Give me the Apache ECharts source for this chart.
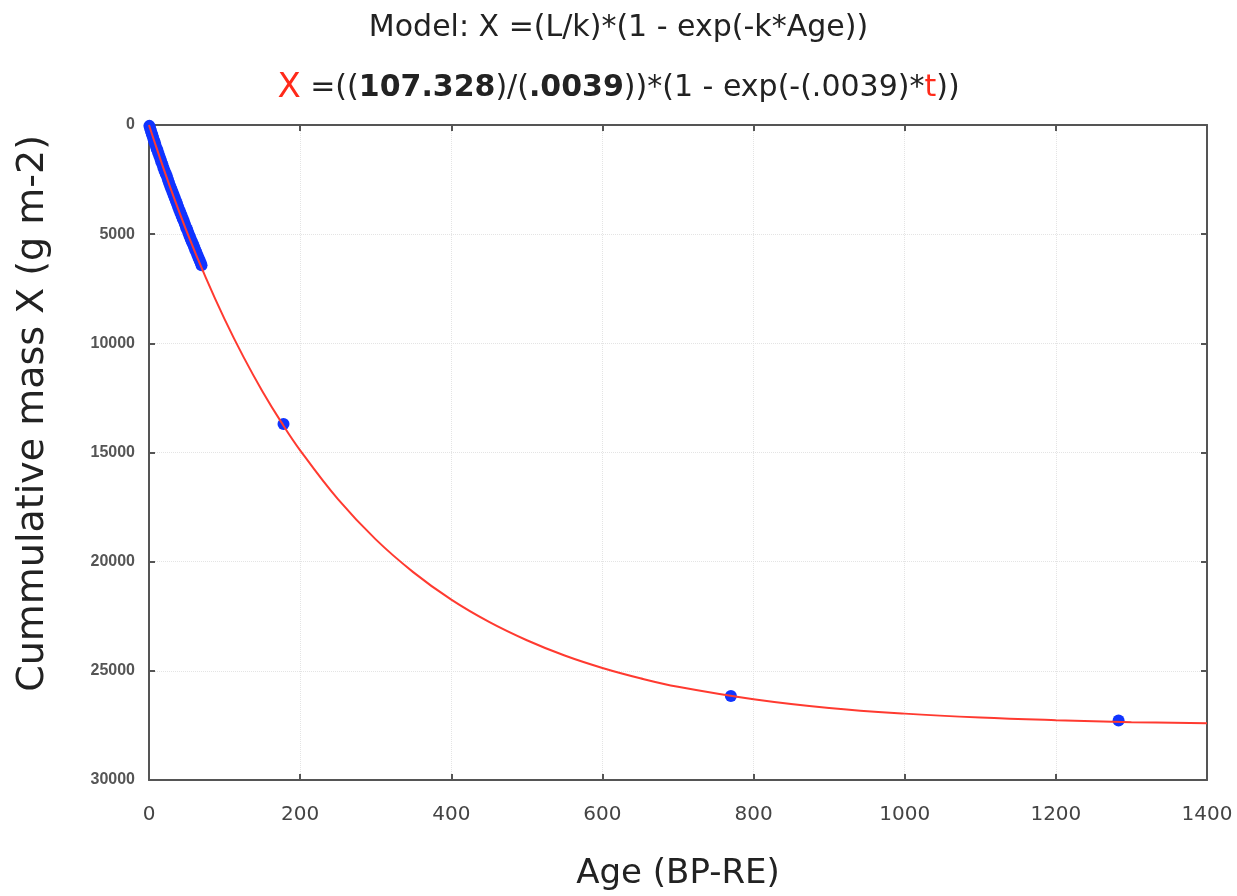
<!DOCTYPE html>
<html>
<head>
<meta charset="utf-8">
<script src="https://cdn.jsdelivr.net/npm/echarts@6/dist/echarts.min.js"></script>
<style>
html,body{margin:0;padding:0;background:#fff;}
#chart{width:1237px;height:896px;}
</style>
</head>
<body>
<div id="chart"></div>
<script>
// Observed data: age (BP-RE) and cumulative mass X (g m-2)
const obsAge = [0.5,1.5,2.5,3.5,4.5,5.5,6.5,7.5,8.5,10,11,12,13.5,15,16,17.5,19,20.5,22,23.5,25,26.5,28,29.5,31,32.5,34,35.5,37,38.5,40,41.5,43,44.5,46,47.5,49,50.5,52,53.5,55,56.5,58,59.5,61,62.5,64,65.5,67,68.5,69.5,178,770,1283];
const obsMass = [40,150,260,380,470,590,700,790,900,1060,1150,1260,1400,1540,1660,1790,1950,2090,2210,2340,2500,2650,2790,2920,3060,3200,3330,3470,3600,3740,3880,4010,4130,4270,4400,4540,4680,4790,4930,5070,5200,5320,5440,5570,5700,5820,5950,6080,6190,6320,6420,13700,26150,27280];
// Fitted curve
const fitAge = [0,10,25,50,75,100,125,150,175,200,250,300,350,400,450,500,550,600,650,700,800,900,1000,1100,1200,1300,1400];
const fitMass = [0,1050,2560,4880,6980,8890,10620,12190,13610,14900,17140,18980,20490,21740,22760,23600,24300,24870,25340,25730,26300,26700,26960,27140,27260,27350,27400];
const xTicks = [0,200,400,600,800,1000,1200,1400];
const yTicks = [0,5000,10000,15000,20000,25000,30000];

const chart = echarts.init(document.getElementById('chart'));
const axisCol = '#555';
const gridLine = {show:true, lineStyle:{color:'#e4e4e4', type:'dotted', width:1}};
chart.setOption({
  animation:false,
  backgroundColor:'#fff',
  title:[
    {text:'Model: X =(L/k)*(1 - exp(-k*Age))', left:'center', top:8,
     textStyle:{fontFamily:'DejaVu Sans', fontSize:30, fontWeight:'normal', color:'#222'}},
    {text:'{r|X} =(({b|107.328})/({b|.0039}))*(1 - exp(-(.0039)*{t|t}))', left:'center', top:66,
     textStyle:{fontFamily:'DejaVu Sans', fontSize:30, fontWeight:'normal', color:'#222',
       rich:{
         r:{color:'#ff2a1a', fontSize:34, fontFamily:'DejaVu Sans'},
         b:{fontWeight:'bold', fontSize:30, fontFamily:'DejaVu Sans', color:'#222'},
         t:{color:'#ff2a1a', fontSize:30, fontFamily:'DejaVu Sans'}
       }}}
  ],
  graphic:[
    {type:'text', left:14, top:135, rotation:0,
     style:{text:'', fill:'#222'}}
  ],
  grid:{left:149, right:30, top:125, bottom:114},
  xAxis:[
    {type:'value', min:xTicks[0], max:xTicks[xTicks.length-1], interval:200,
     name:'Age (BP-RE)', nameLocation:'middle', nameGap:77,
     nameTextStyle:{fontFamily:'DejaVu Sans', fontSize:34, color:'#222'},
     axisLine:{show:true, onZero:false, lineStyle:{color:axisCol, width:2}},
     axisTick:{show:true, inside:true, length:6, lineStyle:{color:axisCol, width:2}},
     axisLabel:{fontFamily:'DejaVu Sans', fontSize:20, color:'#444', margin:25, formatter:v=>String(v)},
     splitLine:gridLine},
    {type:'value', position:'top', min:xTicks[0], max:xTicks[xTicks.length-1], interval:200,
     axisLine:{show:true, onZero:false, lineStyle:{color:axisCol, width:2}},
     axisTick:{show:true, inside:true, length:6, lineStyle:{color:axisCol, width:2}},
     axisLabel:{show:false}, splitLine:{show:false}}
  ],
  yAxis:[
    {type:'value', inverse:true, min:yTicks[0], max:yTicks[yTicks.length-1], interval:5000,
     axisLine:{show:true, onZero:false, lineStyle:{color:axisCol, width:2}},
     axisTick:{show:true, inside:true, length:6, lineStyle:{color:axisCol, width:2}},
     axisLabel:{fontFamily:'Liberation Sans', fontWeight:'bold', fontSize:16, color:'#555', margin:14, formatter:v=>String(v)},
     splitLine:gridLine},
    {type:'value', position:'right', inverse:true, min:yTicks[0], max:yTicks[yTicks.length-1], interval:5000,
     axisLine:{show:true, onZero:false, lineStyle:{color:axisCol, width:2}},
     axisTick:{show:true, inside:true, length:6, lineStyle:{color:axisCol, width:2}},
     axisLabel:{show:false}, splitLine:{show:false}}
  ],
  series:[
    {type:'scatter', xAxisIndex:0, yAxisIndex:0, symbolSize:12,
     itemStyle:{color:'#1034ff', opacity:1},
     data:obsAge.map((a,i)=>[a, obsMass[i]]), z:2},
    {type:'line', xAxisIndex:0, yAxisIndex:0, smooth:0.4, showSymbol:false, symbol:'none',
     lineStyle:{color:'#ff3a30', width:2},
     data:fitAge.map((a,i)=>[a, fitMass[i]]), z:3}
  ]
});
// Rotated y-axis title, placed as in the reference (not centred on the axis)
chart.setOption({graphic:[{type:'text', x:14, y:688, rotation:Math.PI/2,
  style:{text:'Cummulative mass X (g m-2)', fill:'#222', font:'38px "DejaVu Sans"', textAlign:'left', textVerticalAlign:'top'}}]});
</script>
</body>
</html>
